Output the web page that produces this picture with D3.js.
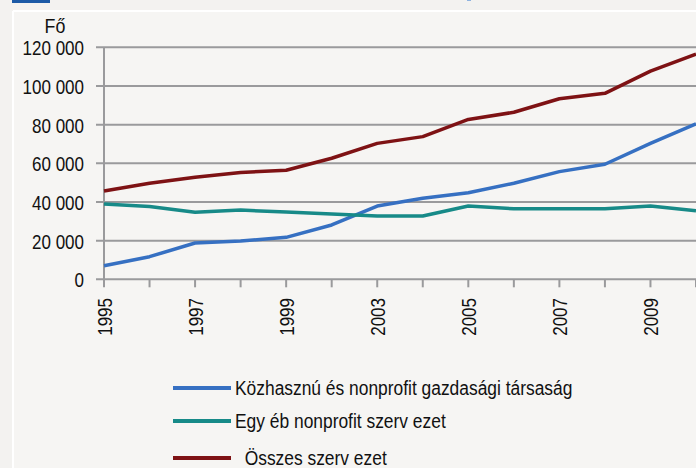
<!DOCTYPE html>
<html>
<head>
<meta charset="utf-8">
<script src="https://cdn.jsdelivr.net/npm/d3@7"></script>
<style>
  body { margin: 0; background: #f3f2f0; }
  svg { display: block; font-family: "Liberation Sans", Arial, sans-serif; }
</style>
</head>
<body>
<script>
// data
const years = ["1995", "1996", "1997", "1998", "1999", "2000", "2003", "2004", "2005", "2006", "2007", "2008", "2009", "2010"]
const tickYears = ["1995", "1997", "1999", "2003", "2005", "2007", "2009"]
const kozhasznu = [7000, 11700, 18800, 19800, 21700, 28100, 37900, 41900, 44800, 49700, 55700, 59500, 70300, 80400]
const egyeb = [39000, 37600, 34700, 35800, 34800, 33800, 32700, 32700, 37900, 36500, 36500, 36500, 37900, 35500]
const osszes = [45700, 49700, 52800, 55300, 56400, 62600, 70300, 73800, 82700, 86400, 93400, 96200, 107700, 116500]
const yTicks = [0, 20000, 40000, 60000, 80000, 100000, 120000]

const series = [
    {name: "Közhasznú és nonprofit gazdasági társaság", values: kozhasznu, color: "#3670c2"},
    {name: "Egy éb nonprofit szerv ezet", values: egyeb, color: "#178a88"},
    {name: "  Összes szerv ezet", values: osszes, color: "#7e1214"}
]

let W = 696, H = 468
let svg = d3.select("body").append("svg")
    .attr("width", W)
    .attr("height", H)

// background panel
svg.append("rect").attr("x", 0).attr("y", 0).attr("width", W).attr("height", H).attr("fill", "#f3f2f0")
svg.append("rect").attr("x", 14).attr("y", 12).attr("width", W - 14).attr("height", H - 12).attr("fill", "#f6f5f3")
svg.append("line").attr("x1", 13).attr("x2", W).attr("y1", 11).attr("y2", 11).attr("stroke", "#fff").attr("stroke-width", 2)
svg.append("line").attr("x1", 13).attr("x2", 13).attr("y1", 11).attr("y2", H).attr("stroke", "#fff").attr("stroke-width", 2)
svg.append("rect").attr("x", 12).attr("y", 0).attr("width", 38).attr("height", 3).attr("fill", "#1c5aa6")
svg.append("rect").attr("x", 467).attr("y", 0).attr("width", 4).attr("height", 1).attr("fill", "#8fb3e0")

let x = d3.scalePoint().domain(years).range([104, 696])
let y = d3.scaleLinear().domain([0, 120000]).range([279.3, 47.3])

// gridlines
svg.append("g")
    .selectAll("line")
    .data(yTicks)
    .enter()
    .append("line")
    .attr("x1", 96)
    .attr("x2", W)
    .attr("y1", d => y(d))
    .attr("y2", d => y(d))
    .attr("stroke", "#9a9a9c")
    .attr("stroke-width", 2)

// y labels (narrow font look)
svg.append("g")
    .selectAll("text")
    .data(yTicks)
    .enter()
    .append("text")
    .attr("transform", d => "translate(84," + y(d) + ") scale(0.81,1)")
    .attr("dy", "0.38em")
    .attr("text-anchor", "end")
    .attr("font-size", 21)
    .attr("fill", "#111")
    .text(d => d3.format(",")(d).replace(/,/g, " "))

svg.append("text")
    .attr("transform", "translate(55,33) scale(0.85,1)")
    .attr("text-anchor", "middle")
    .attr("font-size", 21)
    .attr("fill", "#111")
    .text("Fő")

// y axis line
svg.append("line")
    .attr("x1", 104).attr("x2", 104)
    .attr("y1", y(120000)).attr("y2", y(0))
    .attr("stroke", "#9a9a9c")
    .attr("stroke-width", 2)

// x ticks
svg.append("g")
    .selectAll("line")
    .data(years)
    .enter()
    .append("line")
    .attr("x1", d => x(d))
    .attr("x2", d => x(d))
    .attr("y1", y(0))
    .attr("y2", y(0) + 8)
    .attr("stroke", "#9a9a9c")
    .attr("stroke-width", 2)

svg.append("g")
    .selectAll("text")
    .data(tickYears)
    .enter()
    .append("text")
    .attr("transform", d => "translate(" + x(d) + ",298) rotate(-90) scale(0.81,1)")
    .attr("dy", "0.36em")
    .attr("text-anchor", "end")
    .attr("font-size", 21)
    .attr("fill", "#111")
    .text(d => d)

// lines
let line = d3.line()
    .x((d, i) => x(years[i]))
    .y(d => y(d))

svg.append("g")
    .selectAll("path")
    .data(series)
    .enter()
    .append("path")
    .attr("d", d => line(d.values))
    .attr("fill", "none")
    .attr("stroke", d => d.color)
    .attr("stroke-width", 3.5)
    .attr("stroke-linejoin", "round")

// legend
let legendY = [388, 421, 458]
let legend = svg.append("g")
    .selectAll("g")
    .data(series)
    .enter()
    .append("g")
    .attr("transform", (d, i) => "translate(0," + legendY[i] + ")")

legend.append("line")
    .attr("x1", 173).attr("x2", 231)
    .attr("y1", 0).attr("y2", 0)
    .attr("stroke", d => d.color)
    .attr("stroke-width", 4)

legend.append("text")
    .attr("transform", "translate(235,0) scale(0.87,1)")
    .attr("dy", "0.36em")
    .attr("font-size", 20)
    .attr("fill", "#111")
    .style("white-space", "pre")
    .text(d => d.name)
</script>
</body>
</html>
